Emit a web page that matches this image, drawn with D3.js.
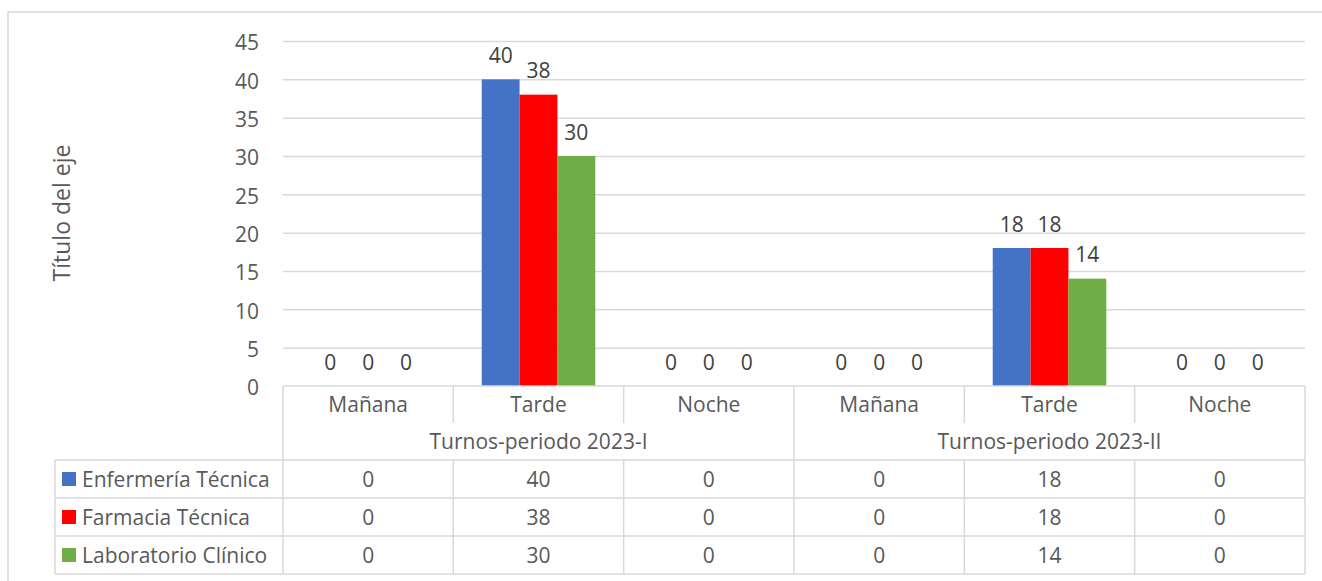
<!DOCTYPE html>
<meta charset="utf-8">
<style>
body { margin: 0; background: #fff; }
svg { display: block; font-family: "Open Sans", sans-serif; }
.grid line { stroke: #d9d9d9; stroke-width: 1.5; }
.grid .domain { display: none; }
.tbl line { stroke: #d9d9d9; stroke-width: 1.5; }
</style>
<svg width="1322" height="581"></svg>
<script src="https://d3js.org/d3.v7.min.js"></script>
<script>

var turnos = ["Mañana", "Tarde", "Noche"];
var periodos = ["Turnos-periodo 2023-I", "Turnos-periodo 2023-II"];
var series = ["Enfermería Técnica", "Farmacia Técnica", "Laboratorio Clínico"];
var colores = ["#4472c4", "#ff0000", "#70ad47"];
var enfermeria = [0, 40, 0, 0, 18, 0];
var farmacia = [0, 38, 0, 0, 18, 0];
var laboratorio = [0, 30, 0, 0, 14, 0];
var yTicks = [0, 5, 10, 15, 20, 25, 30, 35, 40, 45];

var valores = [enfermeria, farmacia, laboratorio];

var svg = d3.select("svg"),
    plotLeft = 283, plotRight = 1305, plotTop = 41, base = 386,
    rowCat = 423, rowGrp = 460, rowH = 38,
    legX = 55;

// one slot per periodo x turno
var slots = [];
periodos.forEach(function(p, pi) {
  turnos.forEach(function(t, ti) { slots.push({periodo: pi, turno: t, i: pi * turnos.length + ti}); });
});

var x0 = d3.scaleBand()
    .domain(slots.map(function(d) { return d.i; }))
    .range([plotLeft, plotRight]);

var bw = x0.bandwidth();
// gap width 150%
var x1 = d3.scaleBand()
    .domain(series)
    .range([bw / 6, bw * 5 / 6]);

var y = d3.scaleLinear()
    .domain([0, 45])
    .range([base, plotTop]);

// outer chart border
svg.append("path")
    .attr("d", "M8,581V12H1322")
    .attr("fill", "none")
    .attr("stroke", "#d9d9d9")
    .attr("stroke-width", 1.5);

// gridlines
svg.append("g")
    .attr("class", "grid")
    .attr("transform", "translate(" + plotLeft + ",0)")
    .call(d3.axisLeft(y).tickValues(yTicks.slice(1)).tickSize(-(plotRight - plotLeft)).tickFormat(""));

// y tick labels
svg.append("g")
    .attr("font-size", 21)
    .attr("fill", "#595959")
    .attr("text-anchor", "end")
  .selectAll("text")
  .data(yTicks)
  .enter().append("text")
    .attr("x", 259)
    .attr("y", function(d) { return y(d) + 2; })
    .attr("dy", "0.357em")
    .text(function(d) { return d; });

// axis title
svg.append("text")
    .attr("transform", "translate(70,213) rotate(-90)")
    .attr("text-anchor", "middle")
    .attr("font-size", 23)
    .attr("fill", "#595959")
    .text("Título del eje");

// bars
var sg = svg.append("g")
  .selectAll("g")
  .data(series)
  .enter().append("g")
    .attr("fill", function(d, i) { return colores[i]; });

sg.selectAll("rect")
  .data(function(d, si) { return slots.map(function(s) { return {serie: d, s: s, v: valores[si][s.i]}; }); })
  .enter().append("rect")
    .attr("x", function(d) { return x0(d.s.i) + x1(d.serie); })
    .attr("y", function(d) { return y(d.v); })
    .attr("width", x1.bandwidth())
    .attr("height", function(d) { return y(0) - y(d.v); });

sg.selectAll("text")
  .data(function(d, si) { return slots.map(function(s) { return {serie: d, s: s, v: valores[si][s.i]}; }); })
  .enter().append("text")
    .attr("x", function(d) { return x0(d.s.i) + x1(d.serie) + x1.bandwidth() / 2; })
    .attr("y", function(d) { return y(d.v) - 16.5; })
    .attr("text-anchor", "middle")
    .attr("font-size", 21)
    .attr("fill", "#404040")
    .text(function(d) { return d.v; });

// data table
var tbl = svg.append("g").attr("class", "tbl");

function hline(xa, xb, yy) {
  tbl.append("line").attr("x1", xa).attr("x2", xb).attr("y1", yy).attr("y2", yy);
}
function vline(xx, ya, yb) {
  tbl.append("line").attr("x1", xx).attr("x2", xx).attr("y1", ya).attr("y2", yb);
}

var tblBottom = rowGrp + rowH * series.length;
hline(plotLeft, plotRight, base);
for (var r = 0; r <= series.length; r++) hline(legX, plotRight, rowGrp + r * rowH);
vline(legX, rowGrp, tblBottom);
slots.forEach(function(s) {
  var xx = x0(s.i);
  if (s.i % turnos.length === 0) vline(xx, base, tblBottom);
  else { vline(xx, base, rowCat); vline(xx, rowGrp, tblBottom); }
});
vline(plotRight, base, tblBottom);

var txt = svg.append("g")
    .attr("font-size", 21)
    .attr("fill", "#595959")
    .attr("text-anchor", "middle");

txt.selectAll(".cat")
  .data(slots)
  .enter().append("text")
    .attr("x", function(d) { return x0(d.i) + bw / 2; })
    .attr("y", (base + rowCat) / 2)
    .attr("dy", "0.36em")
    .text(function(d) { return d.turno; });

txt.selectAll(".grp")
  .data(periodos)
  .enter().append("text")
    .attr("x", function(d, i) { return x0(i * turnos.length) + bw * turnos.length / 2; })
    .attr("y", (rowCat + rowGrp) / 2)
    .attr("dy", "0.36em")
    .text(function(d) { return d; });

series.forEach(function(name, si) {
  var cy = rowGrp + si * rowH + rowH / 2;
  svg.append("rect")
      .attr("x", 62)
      .attr("y", cy - 7)
      .attr("width", 14)
      .attr("height", 14)
      .attr("fill", colores[si]);
  svg.append("text")
      .attr("x", 82)
      .attr("y", cy)
      .attr("dy", "0.36em")
      .attr("font-size", 21)
      .attr("fill", "#595959")
      .text(name);
  txt.selectAll(".v" + si)
    .data(slots)
    .enter().append("text")
      .attr("x", function(d) { return x0(d.i) + bw / 2; })
      .attr("y", cy)
      .attr("dy", "0.36em")
      .text(function(d) { return valores[si][d.i]; });
});

</script>
